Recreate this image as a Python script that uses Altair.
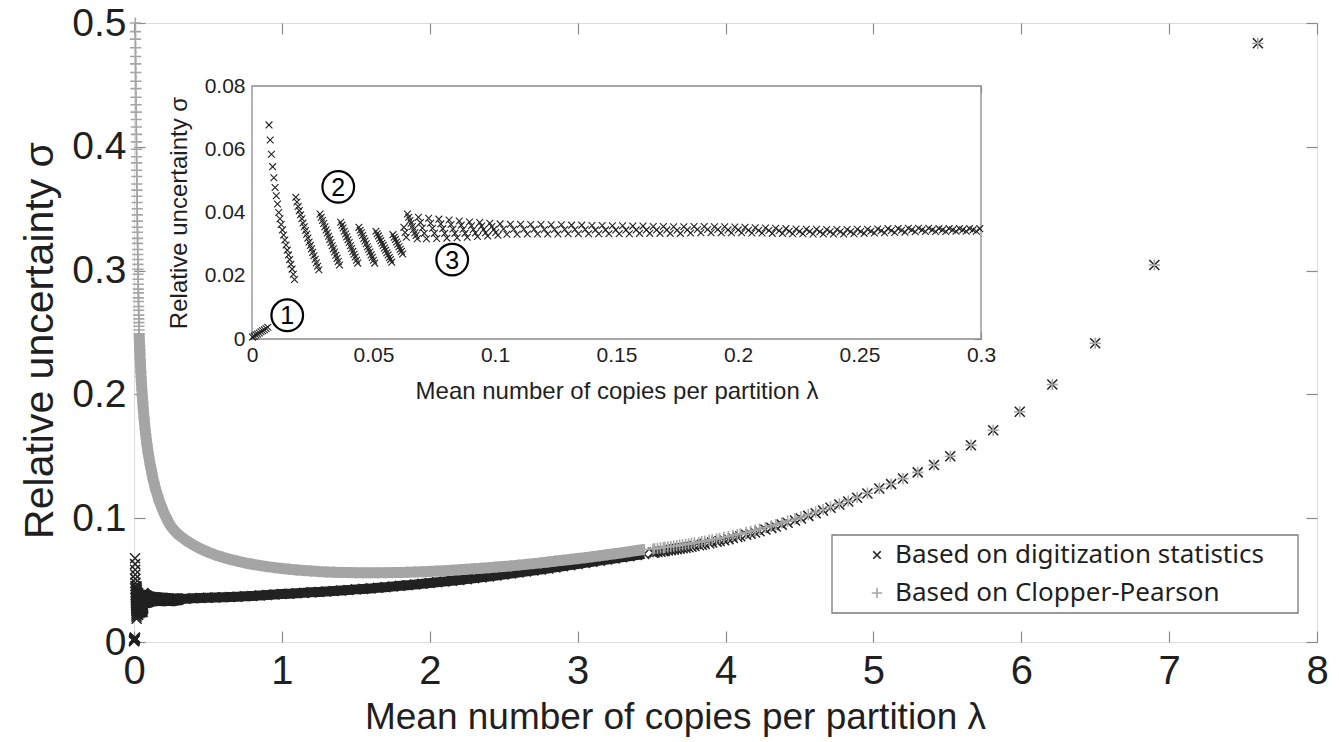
import altair as alt
import pandas as pd

# ---------------- data ----------------
SERIES = ["Based on digitization statistics", "Based on Clopper-Pearson"]

X_TICKS = [0, 1, 2, 3, 4, 5, 6, 7, 8]
Y_TICKS = [0, 0.1, 0.2, 0.3, 0.4, 0.5]
IX_TICKS = [0, 0.05, 0.1, 0.15, 0.2, 0.25, 0.3]
IY_TICKS = [0, 0.02, 0.04, 0.06, 0.08]

# digitization statistics, lambda <= 0.07 (region 1 and first saw teeth)
DIG_LAM_A = [
    0.0002, 0.0009, 0.0016, 0.0023, 0.0030, 0.0037, 0.0044, 0.0051, 0.0058, 0.0065,
    0.0070, 0.0075, 0.0080, 0.0085, 0.0090, 0.0095, 0.0100, 0.0105, 0.0110, 0.0115,
    0.0120, 0.0125, 0.0130, 0.0135, 0.0140, 0.0145, 0.0150, 0.0155, 0.0160, 0.0165,
    0.0170, 0.0175, 0.0180, 0.0185, 0.0190, 0.0195, 0.0200, 0.0205, 0.0210, 0.0215,
    0.0220, 0.0225, 0.0230, 0.0235, 0.0240, 0.0245, 0.0250, 0.0255, 0.0260, 0.0265,
    0.0270, 0.0275, 0.0280, 0.0285, 0.0290, 0.0295, 0.0300, 0.0305, 0.0310, 0.0315,
    0.0320, 0.0325, 0.0330, 0.0335, 0.0340, 0.0345, 0.0350, 0.0355, 0.0360, 0.0365,
    0.0370, 0.0375, 0.0380, 0.0385, 0.0390, 0.0395, 0.0400, 0.0405, 0.0410, 0.0415,
    0.0420, 0.0425, 0.0430, 0.0435, 0.0440, 0.0445, 0.0450, 0.0455, 0.0460, 0.0465,
    0.0470, 0.0475, 0.0480, 0.0485, 0.0490, 0.0495, 0.0500, 0.0505, 0.0510, 0.0515,
    0.0520, 0.0525, 0.0530, 0.0535, 0.0540, 0.0545, 0.0550, 0.0555, 0.0560, 0.0565,
    0.0570, 0.0575, 0.0580, 0.0585, 0.0590, 0.0595, 0.0600, 0.0605, 0.0610, 0.0615,
    0.0620, 0.0625, 0.0630, 0.0635, 0.0640, 0.0645, 0.0650, 0.0655, 0.0660, 0.0665,
    0.0670, 0.0675, 0.0680,
]
DIG_SIG_A = [
    0.0006, 0.0009, 0.0013, 0.0016, 0.0019, 0.0023, 0.0026, 0.0029, 0.0033, 0.0037,
    0.0677, 0.0629, 0.0584, 0.0545, 0.0510, 0.0479, 0.0453, 0.0427, 0.0400, 0.0380,
    0.0362, 0.0345, 0.0329, 0.0313, 0.0297, 0.0281, 0.0266, 0.0251, 0.0236, 0.0221,
    0.0205, 0.0188,
    0.0448, 0.0433, 0.0419, 0.0406, 0.0393, 0.0380, 0.0367, 0.0355, 0.0343, 0.0331,
    0.0319, 0.0307, 0.0296, 0.0285, 0.0274, 0.0263, 0.0252, 0.0241, 0.0230, 0.0219,
    0.0395, 0.0385, 0.0375, 0.0365, 0.0355, 0.0345, 0.0335, 0.0325, 0.0315, 0.0305,
    0.0295, 0.0285, 0.0275, 0.0265, 0.0255, 0.0245, 0.0234,
    0.0369, 0.0360, 0.0351, 0.0341, 0.0332, 0.0323, 0.0314, 0.0305, 0.0295, 0.0286,
    0.0277, 0.0268, 0.0259, 0.0249, 0.0240,
    0.0353, 0.0344, 0.0336, 0.0327, 0.0318, 0.0310, 0.0301, 0.0292, 0.0284, 0.0275,
    0.0266, 0.0258, 0.0249, 0.0240,
    0.0341, 0.0333, 0.0326, 0.0318, 0.0311, 0.0303, 0.0296, 0.0288, 0.0281, 0.0273,
    0.0266, 0.0258, 0.0251, 0.0243,
    0.0330, 0.0322, 0.0315, 0.0307, 0.0300, 0.0292, 0.0284, 0.0277, 0.0269,
    0.0353, 0.0337, 0.0322,
    0.0395, 0.0385, 0.0375, 0.0366, 0.0356, 0.0346, 0.0336, 0.0327, 0.0317,
]

# digitization statistics, saw teeth 0.068 - 0.10
DIG_LAM_B1 = [
    0.0685, 0.0693, 0.0701, 0.0709, 0.0718,
    0.0727, 0.0735, 0.0743, 0.0751, 0.0760,
    0.0769, 0.0777, 0.0785, 0.0793, 0.0802,
    0.0811, 0.0819, 0.0827, 0.0835, 0.0844,
    0.0853, 0.0861, 0.0869, 0.0877, 0.0886,
    0.0895, 0.0903, 0.0911, 0.0919, 0.0928,
    0.0937, 0.0945, 0.0953, 0.0961, 0.0970,
    0.0979, 0.0987, 0.0995, 0.1003, 0.1012,
]
DIG_SIG_B1 = [
    0.0385, 0.0368, 0.0351, 0.0334, 0.0317,
    0.0382, 0.0366, 0.0350, 0.0334, 0.0318,
    0.0379, 0.0364, 0.0349, 0.0334, 0.0319,
    0.0376, 0.0362, 0.0348, 0.0334, 0.0320,
    0.0373, 0.0360, 0.0347, 0.0334, 0.0322,
    0.0370, 0.0358, 0.0346, 0.0335, 0.0324,
    0.0368, 0.0357, 0.0346, 0.0336, 0.0326,
    0.0366, 0.0356, 0.0346, 0.0337, 0.0328,
]

# digitization statistics, saw teeth 0.10 - 0.30
DIG_LAM_B2 = [
    0.1021, 0.1035, 0.1049, 0.1063, 0.1077, 0.1091, 0.1105, 0.1119, 0.1133,
    0.1147, 0.1161, 0.1175, 0.1189, 0.1203, 0.1217, 0.1231, 0.1245, 0.1259,
    0.1273, 0.1287, 0.1301, 0.1315, 0.1329, 0.1343, 0.1357, 0.1371, 0.1385,
    0.1399, 0.1413, 0.1427, 0.1441, 0.1455, 0.1469, 0.1483, 0.1497, 0.1511,
    0.1525, 0.1539, 0.1553, 0.1567, 0.1581, 0.1595, 0.1609, 0.1623, 0.1637,
    0.1651, 0.1665, 0.1679, 0.1693, 0.1707, 0.1721, 0.1735, 0.1749, 0.1763,
    0.1777, 0.1791, 0.1805, 0.1819, 0.1833, 0.1847, 0.1861, 0.1875, 0.1889,
    0.1903, 0.1917, 0.1931, 0.1945, 0.1959, 0.1973, 0.1987, 0.2001, 0.2015,
    0.2029, 0.2043, 0.2057, 0.2071, 0.2085, 0.2099, 0.2113, 0.2127, 0.2141,
    0.2155, 0.2169, 0.2183, 0.2197, 0.2211, 0.2225, 0.2239, 0.2253, 0.2267,
    0.2281, 0.2295, 0.2309, 0.2323, 0.2337, 0.2351, 0.2365, 0.2379, 0.2393,
    0.2407, 0.2421, 0.2435, 0.2449, 0.2463, 0.2477, 0.2491, 0.2505, 0.2519,
    0.2533, 0.2547, 0.2561, 0.2575, 0.2589, 0.2603, 0.2617, 0.2631, 0.2645,
    0.2659, 0.2673, 0.2687, 0.2701, 0.2715, 0.2729, 0.2743, 0.2757, 0.2771,
    0.2785, 0.2799, 0.2813, 0.2827, 0.2841, 0.2855, 0.2869, 0.2883, 0.2897,
    0.2911, 0.2925, 0.2939, 0.2953, 0.2967, 0.2981, 0.2995,
]
DIG_SIG_B2 = [
    0.0364, 0.0348, 0.0331, 0.0363, 0.0347, 0.0331, 0.0363, 0.0347, 0.0332,
    0.0362, 0.0347, 0.0332, 0.0362, 0.0346, 0.0332, 0.0361, 0.0346, 0.0332,
    0.0361, 0.0346, 0.0333, 0.0360, 0.0346, 0.0333, 0.0360, 0.0346, 0.0333,
    0.0359, 0.0345, 0.0333, 0.0359, 0.0345, 0.0333, 0.0358, 0.0345, 0.0333,
    0.0358, 0.0345, 0.0333, 0.0357, 0.0345, 0.0334, 0.0357, 0.0345, 0.0334,
    0.0356, 0.0345, 0.0334, 0.0356, 0.0345, 0.0334, 0.0355, 0.0344, 0.0334,
    0.0355, 0.0345, 0.0335, 0.0356, 0.0346, 0.0336, 0.0356, 0.0346, 0.0336,
    0.0355, 0.0346, 0.0336, 0.0355, 0.0345, 0.0336, 0.0354, 0.0345, 0.0336,
    0.0353, 0.0344, 0.0335, 0.0352, 0.0343, 0.0335, 0.0351, 0.0343, 0.0334,
    0.0350, 0.0342, 0.0334, 0.0349, 0.0341, 0.0333, 0.0348, 0.0340, 0.0333,
    0.0347, 0.0340, 0.0332, 0.0347, 0.0339, 0.0332, 0.0346, 0.0339, 0.0332,
    0.0346, 0.0339, 0.0332, 0.0346, 0.0339, 0.0333, 0.0347, 0.0340, 0.0334,
    0.0347, 0.0341, 0.0335, 0.0348, 0.0342, 0.0336, 0.0349, 0.0343, 0.0337,
    0.0349, 0.0344, 0.0338, 0.0350, 0.0345, 0.0339, 0.0350, 0.0345, 0.0340,
    0.0350, 0.0345, 0.0340, 0.0349, 0.0345, 0.0340, 0.0349, 0.0345, 0.0341,
    0.0349, 0.0345, 0.0341, 0.0349, 0.0345, 0.0341, 0.0349,
]

# main band, shared lambda positions 0.30 - 3.45
BAND_LAM = [
    0.30, 0.35, 0.40, 0.45, 0.50, 0.55, 0.60, 0.65, 0.70, 0.75,
    0.80, 0.85, 0.90, 0.95, 1.00, 1.05, 1.10, 1.15, 1.20, 1.25,
    1.30, 1.35, 1.40, 1.45, 1.50, 1.55, 1.60, 1.65, 1.70, 1.75,
    1.80, 1.85, 1.90, 1.95, 2.00, 2.05, 2.10, 2.15, 2.20, 2.25,
    2.30, 2.35, 2.40, 2.45, 2.50, 2.55, 2.60, 2.65, 2.70, 2.75,
    2.80, 2.85, 2.90, 2.95, 3.00, 3.05, 3.10, 3.15, 3.20, 3.25,
    3.30, 3.35, 3.40, 3.45,
]
DIG_SIG_BAND = [
    0.0346, 0.0350, 0.0353, 0.0355, 0.0357, 0.0359, 0.0361, 0.0364, 0.0366, 0.0369,
    0.0372, 0.0375, 0.0379, 0.0383, 0.0387, 0.0390, 0.0394, 0.0397, 0.0401, 0.0404,
    0.0408, 0.0412, 0.0416, 0.0420, 0.0425, 0.0429, 0.0433, 0.0438, 0.0443, 0.0448,
    0.0454, 0.0459, 0.0464, 0.0470, 0.0476, 0.0482, 0.0488, 0.0494, 0.0501, 0.0508,
    0.0515, 0.0522, 0.0529, 0.0537, 0.0545, 0.0553, 0.0561, 0.0569, 0.0577, 0.0585,
    0.0594, 0.0603, 0.0612, 0.0621, 0.0630, 0.0639, 0.0648, 0.0657, 0.0666, 0.0675,
    0.0684, 0.0693, 0.0702, 0.0711,
]
CP_SIG_BAND = [
    0.0868, 0.0822, 0.0785, 0.0753, 0.0726, 0.0703, 0.0684, 0.0667, 0.0653, 0.0640,
    0.0628, 0.0618, 0.0609, 0.0601, 0.0594, 0.0588, 0.0582, 0.0577, 0.0573, 0.0569,
    0.0566, 0.0564, 0.0562, 0.0561, 0.0560, 0.0559, 0.0559, 0.0559, 0.0560, 0.0561,
    0.0562, 0.0564, 0.0566, 0.0568, 0.0570, 0.0573, 0.0576, 0.0579, 0.0583, 0.0587,
    0.0591, 0.0595, 0.0600, 0.0605, 0.0610, 0.0615, 0.0621, 0.0627, 0.0633, 0.0639,
    0.0646, 0.0653, 0.0660, 0.0667, 0.0674, 0.0681, 0.0689, 0.0697, 0.0705, 0.0713,
    0.0721, 0.0730, 0.0739, 0.0747,
]

# sparse tail, shared lambda positions
TAIL_LAM = [
    3.51, 3.52, 3.54, 3.56, 3.58, 3.59, 3.61, 3.63, 3.65, 3.67,
    3.69, 3.71, 3.73, 3.75, 3.77, 3.79, 3.82, 3.84, 3.86, 3.89,
    3.91, 3.94, 3.96, 3.99, 4.02, 4.05, 4.08, 4.10, 4.14, 4.17,
    4.20, 4.23, 4.27, 4.31, 4.34, 4.38, 4.42, 4.47, 4.51, 4.56,
    4.61, 4.66, 4.71, 4.77, 4.83, 4.89, 4.96, 5.04, 5.12, 5.20,
    5.30, 5.41, 5.52, 5.66, 5.81, 5.99, 6.21, 6.50, 6.90, 7.60,
]
DIG_SIG_TAIL = [
    0.0721, 0.0723, 0.0727, 0.0730, 0.0733, 0.0735, 0.0739, 0.0742, 0.0746, 0.0750,
    0.0754, 0.0758, 0.0762, 0.0766, 0.0770, 0.0775, 0.0781, 0.0786, 0.0791, 0.0798,
    0.0803, 0.0811, 0.0816, 0.0823, 0.0831, 0.0840, 0.0848, 0.0854, 0.0866, 0.0875,
    0.0885, 0.0895, 0.0908, 0.0922, 0.0933, 0.0948, 0.0963, 0.0982, 0.0998, 0.1019,
    0.1040, 0.1062, 0.1085, 0.1110, 0.1135, 0.1165, 0.1200, 0.1240, 0.1275, 0.1320,
    0.1370, 0.1430, 0.1500, 0.1590, 0.1710, 0.1860, 0.2080, 0.2413, 0.3045, 0.4836,
]
CP_SIG_TAIL = [
    0.0751, 0.0753, 0.0757, 0.0760, 0.0763, 0.0765, 0.0768, 0.0771, 0.0774, 0.0778,
    0.0782, 0.0785, 0.0789, 0.0792, 0.0796, 0.0800, 0.0806, 0.0811, 0.0815, 0.0821,
    0.0826, 0.0833, 0.0838, 0.0845, 0.0852, 0.0861, 0.0868, 0.0874, 0.0885, 0.0894,
    0.0903, 0.0912, 0.0925, 0.0938, 0.0948, 0.0962, 0.0976, 0.0994, 0.1010, 0.1029,
    0.1049, 0.1070, 0.1092, 0.1116, 0.1139, 0.1168, 0.1202, 0.1241, 0.1276, 0.1320,
    0.1370, 0.1430, 0.1500, 0.1590, 0.1710, 0.1860, 0.2080, 0.2413, 0.3045, 0.4836,
]

# Clopper-Pearson, steep head near lambda = 0
CP_LAM_HEAD = [
    0.0090, 0.0095, 0.0100, 0.0105, 0.0110, 0.0115, 0.0120, 0.0125, 0.0130, 0.0135,
    0.0140, 0.0145, 0.0150, 0.0155, 0.0160, 0.0165, 0.0170, 0.0175, 0.0180, 0.0185,
    0.0190, 0.0195, 0.0200, 0.0205, 0.0210, 0.0215, 0.0220, 0.0225, 0.0230, 0.0235,
    0.0240, 0.0245, 0.0250, 0.0255, 0.0260, 0.0265, 0.0270, 0.0275, 0.0280, 0.0285,
    0.0290, 0.0295, 0.0300, 0.0305, 0.0310, 0.0315, 0.0320, 0.0325, 0.0330, 0.0335,
    0.0340, 0.0345,
    0.036, 0.037, 0.038, 0.039, 0.040, 0.042, 0.044, 0.046, 0.048, 0.050,
    0.053, 0.056, 0.059, 0.062, 0.065, 0.068, 0.071, 0.075, 0.079, 0.083,
    0.087, 0.091, 0.095, 0.100, 0.105, 0.110, 0.115, 0.120, 0.125, 0.130,
    0.135, 0.140, 0.145, 0.150, 0.160, 0.170, 0.180, 0.190, 0.200, 0.210,
    0.220, 0.230, 0.240, 0.250, 0.260, 0.270, 0.280, 0.290,
]
CP_SIG_HEAD = [
    0.500, 0.493, 0.487, 0.480, 0.473, 0.467, 0.460, 0.453, 0.447, 0.440,
    0.434, 0.428, 0.422, 0.416, 0.410, 0.404, 0.398, 0.392, 0.387, 0.381,
    0.376, 0.370, 0.365, 0.360, 0.355, 0.350, 0.345, 0.340, 0.335, 0.331,
    0.326, 0.322, 0.317, 0.313, 0.309, 0.305, 0.301, 0.297, 0.293, 0.289,
    0.285, 0.282, 0.278, 0.275, 0.271, 0.268, 0.264, 0.261, 0.258, 0.255,
    0.252, 0.249,
    0.245, 0.242, 0.239, 0.236, 0.233, 0.228, 0.223, 0.218, 0.214, 0.210,
    0.204, 0.199, 0.194, 0.189, 0.185, 0.181, 0.177, 0.172, 0.168, 0.164,
    0.160, 0.157, 0.153, 0.150, 0.146, 0.143, 0.140, 0.137, 0.134, 0.131,
    0.129, 0.126, 0.124, 0.122, 0.118, 0.114, 0.111, 0.108, 0.105, 0.1025,
    0.100, 0.0975, 0.0952, 0.0935, 0.0920, 0.0905, 0.0892, 0.0880,
]

# inset annotations (circled numbers)
ANNOT = ["1", "2", "3"]
ANNOT_LAM = [0.0145, 0.0355, 0.0824]
ANNOT_SIG = [0.0075, 0.0481, 0.0251]

# ---------------- styling ----------------
W, H = 1183, 619
FONT = "Liberation Sans"
LEG_FONT = "Noto Sans"
AX_GRAY = "#8a8a8a"
TXT = "#1f1f1f"
BLACK = "#222222"
GRAY = "#a5a5a5"
X_SHAPE = "M-1,-1L1,1M-1,1L1,-1"
P_SHAPE = "M-1,0L1,0M0,-1L0,1"

INSET_L, INSET_R, INSET_T, INSET_B = 118, 847, 63, 316

dig_inset = pd.concat(
    [
        pd.DataFrame({"lam": DIG_LAM_A, "sig": DIG_SIG_A}),
        pd.DataFrame({"lam": DIG_LAM_B1, "sig": DIG_SIG_B1}),
        pd.DataFrame({"lam": DIG_LAM_B2, "sig": DIG_SIG_B2}),
    ],
    ignore_index=True,
)
dig_main = pd.concat(
    [
        dig_inset,
        pd.DataFrame({"lam": BAND_LAM, "sig": DIG_SIG_BAND}),
        pd.DataFrame({"lam": TAIL_LAM, "sig": DIG_SIG_TAIL}),
    ],
    ignore_index=True,
)
cp_main = pd.concat(
    [
        pd.DataFrame({"lam": CP_LAM_HEAD, "sig": CP_SIG_HEAD}),
        pd.DataFrame({"lam": BAND_LAM, "sig": CP_SIG_BAND}),
        pd.DataFrame({"lam": TAIL_LAM, "sig": CP_SIG_TAIL}),
    ],
    ignore_index=True,
)
# dense stretches, where the markers merge into a solid band
dig_dense = dig_main[(dig_main["lam"] >= 0.07) & (dig_main["lam"] <= BAND_LAM[-1])]
cp_dense = cp_main[(cp_main["sig"] <= 0.25) & (cp_main["lam"] <= BAND_LAM[-1])]

dummy = pd.DataFrame({"lam": [X_TICKS[0]], "sig": [Y_TICKS[0]]})
frame_df = pd.DataFrame(
    {"x0": [IX_TICKS[0]], "x1": [IX_TICKS[-1]], "y0": [IY_TICKS[0]], "y1": [IY_TICKS[-1]]}
)
annot_df = pd.DataFrame({"label": ANNOT, "lam": ANNOT_LAM, "sig": ANNOT_SIG})

XS = alt.Scale(domain=[X_TICKS[0], X_TICKS[-1]], nice=False, zero=False)
YS = alt.Scale(domain=[Y_TICKS[0], Y_TICKS[-1]], nice=False, zero=False)
IXS = alt.Scale(domain=[IX_TICKS[0], IX_TICKS[-1]], range=[INSET_L, INSET_R], nice=False, zero=False)
IYS = alt.Scale(domain=[IY_TICKS[0], IY_TICKS[-1]], range=[INSET_B, INSET_T], nice=False, zero=False)


def tick_axis(orient, offset, values, size):
    return alt.Axis(
        orient=orient, offset=offset, values=values, labels=False, domain=False,
        ticks=True, tickSize=size, tickColor=AX_GRAY, tickWidth=1.2, grid=False, title=None,
    )


def axis_layer(xscale, yscale, xaxis, yaxis):
    return alt.Chart(dummy).mark_point(opacity=0).encode(
        x=alt.X("lam:Q", scale=xscale, axis=xaxis),
        y=alt.Y("sig:Q", scale=yscale, axis=yaxis),
    )


main_x_axis = alt.Axis(
    orient="bottom", values=X_TICKS, format="~g", labelFont=FONT, labelFontSize=40,
    labelColor=TXT, labelPadding=9, labelFlush=False, labelOverlap=False, ticks=False,
    domain=False, grid=False, title="Mean number of copies per partition λ",
    titleFont=FONT, titleFontSize=37, titleFontWeight="normal", titleColor=TXT,
    titleX=541, titleY=86, titleBaseline="alphabetic", titleAlign="center",
)
main_y_axis = alt.Axis(
    orient="left", values=Y_TICKS, format="~g", labelFont=FONT, labelFontSize=39,
    labelColor=TXT, labelPadding=8, labelFlush=False, labelOverlap=False, ticks=False,
    domain=False, grid=False, title="Relative uncertainty σ", titleFont=FONT,
    titleFontSize=41, titleFontWeight="normal", titleColor=TXT, titleX=-82, titleY=317,
    titleBaseline="alphabetic", titleAngle=270, titleAlign="center",
)

dig_band = alt.Chart(dig_dense).mark_line(
    color=BLACK, strokeWidth=10, strokeCap="butt", strokeJoin="round"
).encode(
    x=alt.X("lam:Q", scale=XS, axis=main_x_axis),
    y=alt.Y("sig:Q", scale=YS, axis=main_y_axis),
)
dig_layer = alt.Chart(dig_main).mark_point(
    shape=X_SHAPE, filled=False, size=100, strokeWidth=1.5, color=BLACK, opacity=1
).encode(
    x=alt.X("lam:Q", scale=XS, axis=None),
    y=alt.Y("sig:Q", scale=YS, axis=None),
)
cp_band = alt.Chart(cp_dense).mark_line(
    color=GRAY, strokeWidth=11, strokeCap="butt", strokeJoin="round"
).encode(
    x=alt.X("lam:Q", scale=XS, axis=None),
    y=alt.Y("sig:Q", scale=YS, axis=None),
)
cp_layer = alt.Chart(cp_main).mark_point(
    shape=P_SHAPE, filled=False, size=125, strokeWidth=1.6, color=GRAY, opacity=1
).encode(
    x=alt.X("lam:Q", scale=XS, axis=None),
    y=alt.Y("sig:Q", scale=YS, axis=None),
)

main = alt.layer(
    dig_band,
    dig_layer,
    cp_band,
    cp_layer,
    axis_layer(XS, YS, tick_axis("top", -H, X_TICKS, 11), tick_axis("right", -W, Y_TICKS, 11)),
    axis_layer(XS, YS, tick_axis("bottom", -H, X_TICKS, 11), tick_axis("left", -W, Y_TICKS, 11)),
).resolve_axis(x="independent", y="independent")

# ---------------- inset ----------------
inset_x_axis = alt.Axis(
    orient="bottom", offset=INSET_B - H, values=IX_TICKS, format="~g", labelFont=FONT,
    labelFontSize=21, labelColor=TXT, labelPadding=5, labelFlush=False, labelOverlap=False,
    ticks=False, domain=False, grid=False, title="Mean number of copies per partition λ",
    titleFont=FONT, titleFontSize=24, titleFontWeight="normal", titleColor=TXT,
    titleY=59, titleBaseline="alphabetic",
)
inset_y_axis = alt.Axis(
    orient="left", offset=-INSET_L, values=IY_TICKS, format="~g", labelFont=FONT,
    labelFontSize=21, labelColor=TXT, labelPadding=7, labelFlush=False, labelOverlap=False,
    ticks=False, domain=False, grid=False, title="Relative uncertainty σ", titleFont=FONT,
    titleFontSize=24, titleFontWeight="normal", titleColor=TXT, titleX=-66,
    titleBaseline="alphabetic", titleAngle=270,
)

frame = alt.Chart(frame_df).mark_rect(fill="white", stroke=AX_GRAY, strokeWidth=1.3).encode(
    x=alt.X("x0:Q", scale=IXS, axis=inset_x_axis),
    x2="x1:Q",
    y=alt.Y("y0:Q", scale=IYS, axis=inset_y_axis),
    y2="y1:Q",
)
inset_pts = alt.Chart(dig_inset).mark_point(
    shape=X_SHAPE, filled=False, size=46, strokeWidth=1.1, color=BLACK, opacity=1
).encode(
    x=alt.X("lam:Q", scale=IXS, axis=None),
    y=alt.Y("sig:Q", scale=IYS, axis=None),
)
annot_circ = alt.Chart(annot_df).mark_point(
    shape="circle", filled=False, size=1000, strokeWidth=2.2, color="black", opacity=1
).encode(
    x=alt.X("lam:Q", scale=IXS, axis=None),
    y=alt.Y("sig:Q", scale=IYS, axis=None),
)
annot_txt = alt.Chart(annot_df).mark_text(
    font=FONT, fontSize=25, color="black", align="center", baseline="middle", dy=1
).encode(
    x=alt.X("lam:Q", scale=IXS, axis=None),
    y=alt.Y("sig:Q", scale=IYS, axis=None),
    text="label:N",
)

inset = alt.layer(
    frame,
    inset_pts,
    annot_circ,
    annot_txt,
    axis_layer(IXS, IYS, tick_axis("top", -INSET_B, IX_TICKS, 7),
               tick_axis("right", INSET_L - W, IY_TICKS, 7)),
    axis_layer(IXS, IYS, tick_axis("bottom", INSET_T - H, IX_TICKS, 7),
               tick_axis("left", -INSET_R, IY_TICKS, 7)),
).resolve_axis(x="independent", y="independent")

# ---------------- legend (drawn by hand) ----------------
leg1 = pd.DataFrame({"label": [SERIES[0]]})
leg2 = pd.DataFrame({"label": [SERIES[1]]})
leg_box = alt.Chart(leg1).mark_rect(fill="white", stroke="#7a7a7a", strokeWidth=1.3).encode(
    x=alt.value(698), x2=alt.value(1164), y=alt.value(512), y2=alt.value(590)
)
leg_sym1 = alt.Chart(leg1).mark_point(
    shape=X_SHAPE, filled=False, size=56, strokeWidth=1.7, color=BLACK, opacity=1
).encode(x=alt.value(743), y=alt.value(532))
leg_sym2 = alt.Chart(leg2).mark_point(
    shape=P_SHAPE, filled=False, size=110, strokeWidth=1.6, color=GRAY, opacity=1
).encode(x=alt.value(743), y=alt.value(570))
leg_txt1 = alt.Chart(leg1).mark_text(
    font=LEG_FONT, fontSize=26, color=TXT, align="left", baseline="middle"
).encode(x=alt.value(761), y=alt.value(532), text="label:N")
leg_txt2 = alt.Chart(leg2).mark_text(
    font=LEG_FONT, fontSize=26, color=TXT, align="left", baseline="middle"
).encode(x=alt.value(761), y=alt.value(570), text="label:N")

chart = (
    alt.layer(main, inset, leg_box, leg_sym1, leg_sym2, leg_txt1, leg_txt2)
    .resolve_scale(x="independent", y="independent")
    .properties(
        width=W,
        height=H,
        autosize=alt.AutoSizeParams(type="none"),
        padding={"left": 126, "top": 15, "right": 14, "bottom": 97},
    )
    .configure_view(stroke=AX_GRAY, strokeWidth=1.5)
    .configure(background="white")
)

chart.save("out.html", embed_options={"renderer": "svg", "actions": False})
